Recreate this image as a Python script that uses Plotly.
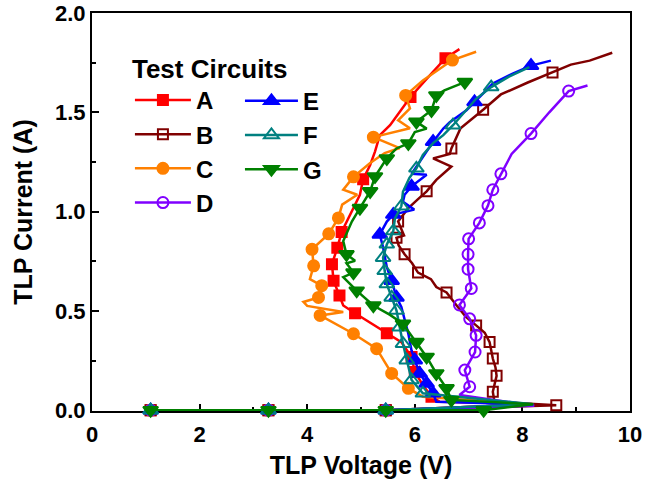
import plotly.graph_objects as go

# ---------------- data (TLP voltage V, TLP current A) ----------------
# zero-current low-voltage pulses shared by the curves
V0 = [1.09, 3.28, 5.46]
I0 = [0.0, 0.0, 0.0]

A_v = V0 + [8.20, 6.46, 6.31, 6.15, 6.00, 5.94, 5.75, 5.48, 5.23, 4.89, 4.67, 4.60, 4.49, 4.46, 4.56, 4.64, 4.83, 4.98, 5.04, 5.17, 5.26, 5.35, 5.54, 5.72, 5.92, 6.22, 6.57, 6.83]
A_i = I0 + [0.030, 0.043, 0.068, 0.127, 0.193, 0.268, 0.343, 0.388, 0.427, 0.488, 0.527, 0.577, 0.652, 0.735, 0.818, 0.897, 1.002, 1.085, 1.163, 1.235, 1.302, 1.385, 1.435, 1.502, 1.577, 1.668, 1.772, 1.818]
A_m = [1, 1, 1] + [0, 0, 1, 0, 1, 1, 0, 1, 0, 1, 0, 1, 1, 1, 1, 1, 0, 0, 1, 0, 0, 0, 0, 0, 1, 0, 1, 0]

B_v = V0 + [8.63, 7.48, 7.45, 7.52, 7.50, 7.45, 7.39, 7.30, 7.14, 6.95, 6.80, 6.59, 6.40, 6.30, 6.06, 5.95, 5.81, 5.70, 5.66, 5.80, 5.69, 5.78, 5.88, 6.05, 6.22, 6.40, 6.68, 6.34, 6.65, 6.68, 6.85, 7.27, 7.60, 8.10, 8.56, 8.90, 9.25, 9.67]
B_i = I0 + [0.025, 0.043, 0.093, 0.173, 0.215, 0.260, 0.343, 0.390, 0.427, 0.470, 0.520, 0.593, 0.620, 0.660, 0.693, 0.740, 0.785, 0.830, 0.868, 0.880, 0.950, 0.985, 1.018, 1.060, 1.102, 1.160, 1.227, 1.268, 1.290, 1.318, 1.420, 1.513, 1.590, 1.650, 1.700, 1.740, 1.760, 1.800]
B_m = [1, 1, 1] + [1, 0, 1, 1, 0, 1, 1, 0, 1, 0, 0, 1, 0, 0, 1, 0, 1, 0, 1, 0, 1, 0, 0, 0, 1, 0, 0, 0, 0, 1, 0, 1, 0, 0, 1, 0, 0, 0]

C_v = V0 + [8.20, 6.15, 5.88, 5.57, 5.29, 4.86, 4.24, 4.67, 4.00, 3.93, 4.21, 4.27, 4.05, 4.12, 4.09, 4.40, 4.58, 4.65, 4.93, 4.67, 4.86, 5.17, 5.44, 5.72, 5.23, 5.91, 5.69, 5.91, 5.83, 6.15, 6.70, 7.14]
C_i = I0 + [0.030, 0.068, 0.110, 0.185, 0.310, 0.385, 0.477, 0.495, 0.525, 0.545, 0.568, 0.627, 0.660, 0.727, 0.810, 0.888, 0.968, 1.035, 1.085, 1.110, 1.175, 1.245, 1.295, 1.320, 1.375, 1.420, 1.460, 1.520, 1.585, 1.660, 1.763, 1.805]
C_m = [1, 1, 1] + [0, 0, 1, 1, 1, 1, 1, 0, 0, 0, 1, 1, 0, 1, 1, 1, 1, 0, 0, 0, 1, 0, 0, 0, 1, 0, 0, 0, 1, 0, 1, 0]

D_v = V0 + [8.22, 6.83, 7.02, 6.93, 7.12, 7.14, 7.02, 6.83, 7.05, 6.99, 6.99, 7.00, 7.20, 7.36, 7.45, 7.60, 7.80, 8.16, 8.50, 8.86, 9.21]
D_i = I0 + [0.023, 0.077, 0.118, 0.202, 0.293, 0.377, 0.460, 0.530, 0.613, 0.710, 0.785, 0.863, 0.943, 1.030, 1.110, 1.190, 1.290, 1.393, 1.500, 1.607, 1.635]
D_m = [1, 1, 1] + [0, 0, 1, 1, 1, 1, 1, 1, 1, 1, 1, 1, 1, 1, 1, 1, 0, 1, 0, 1, 0]

E_v = V0 + [8.20, 6.40, 6.34, 6.22, 6.09, 6.00, 5.94, 5.88, 5.82, 5.75, 5.66, 5.57, 5.48, 5.41, 5.35, 5.48, 5.60, 5.99, 5.78, 5.81, 5.94, 6.22, 5.94, 6.09, 6.22, 6.34, 6.53, 6.65, 6.96, 7.11, 7.45, 7.82, 8.16, 8.53]
E_i = I0 + [0.030, 0.043, 0.085, 0.135, 0.185, 0.252, 0.300, 0.385, 0.450, 0.520, 0.568, 0.652, 0.720, 0.820, 0.885, 0.950, 0.985, 1.010, 1.050, 1.085, 1.127, 1.185, 1.190, 1.250, 1.300, 1.352, 1.418, 1.450, 1.510, 1.552, 1.645, 1.695, 1.735, 1.760]
E_m = [1, 1, 1] + [0, 0, 1, 1, 1, 1, 0, 0, 0, 0, 1, 1, 0, 0, 1, 0, 1, 0, 0, 0, 1, 0, 0, 0, 0, 1, 0, 0, 0, 1, 0, 0, 1, 0]

F_v = V0 + [8.20, 6.15, 5.94, 5.85, 5.78, 5.72, 5.66, 5.57, 5.48, 5.44, 5.41, 5.48, 5.60, 5.63, 5.75, 5.78, 5.90, 6.03, 6.15, 6.34, 6.53, 6.71, 7.14, 7.42, 7.75, 8.13]
F_i = I0 + [0.030, 0.085, 0.152, 0.252, 0.335, 0.418, 0.502, 0.568, 0.635, 0.702, 0.768, 0.835, 0.902, 0.965, 1.027, 1.100, 1.170, 1.218, 1.285, 1.345, 1.385, 1.435, 1.568, 1.627, 1.680, 1.727]
F_m = [1, 1, 1] + [0, 1, 1, 1, 1, 1, 1, 1, 1, 1, 1, 1, 1, 0, 1, 0, 0, 1, 0, 0, 0, 1, 0, 1, 0, 0]

G_v = V0 + [7.28, 8.20, 6.68, 6.59, 6.40, 6.22, 6.03, 5.78, 5.54, 5.23, 4.92, 4.67, 4.86, 4.73, 4.89, 4.73, 4.67, 4.83, 4.98, 5.17, 5.26, 5.48, 5.66, 5.88, 6.00, 6.22, 6.03, 6.31, 6.40, 6.55, 6.93]
G_i = I0 + [0.000, 0.030, 0.052, 0.110, 0.185, 0.268, 0.343, 0.435, 0.480, 0.527, 0.602, 0.670, 0.693, 0.740, 0.752, 0.785, 0.852, 0.950, 1.018, 1.102, 1.177, 1.268, 1.318, 1.343, 1.400, 1.418, 1.452, 1.510, 1.585, 1.610, 1.652]
G_m = [1, 1, 1] + [1, 0, 1, 1, 1, 1, 1, 1, 0, 1, 1, 0, 1, 0, 0, 1, 0, 0, 1, 1, 1, 1, 0, 1, 0, 0, 1, 1, 1, 0, 1]

names = ["A", "B", "C", "D", "E", "F", "G"]
xs = [A_v, B_v, C_v, D_v, E_v, F_v, G_v]
ys = [A_i, B_i, C_i, D_i, E_i, F_i, G_i]
ms = [A_m, B_m, C_m, D_m, E_m, F_m, G_m]

# ---------------- styles ----------------
colors = ["#FF0000", "#800000", "#FF8000", "#8000FF", "#0000FF", "#008080", "#008000"]
symbols = ["square", "square-open", "circle", "circle-open", "triangle-up", "triangle-up-open", "triangle-down"]
msizes = [10, 10, 11, 11, 13, 13, 13]
legend_of = ["legend", "legend", "legend", "legend", "legend2", "legend2", "legend2"]

FONT = "Liberation Sans, Arial, sans-serif"

fig = go.Figure()
for k, nm in enumerate(names):
    assert len(xs[k]) == len(ys[k]) == len(ms[k]), nm
    col = colors[k]
    # measured curve
    fig.add_trace(go.Scatter(x=xs[k], y=ys[k], mode="lines", line=dict(color=col, width=2.5),
                             showlegend=False, hoverinfo="skip"))
    # marked points
    mx = [v for v, f in zip(xs[k], ms[k]) if f]
    my = [c for c, f in zip(ys[k], ms[k]) if f]
    fig.add_trace(go.Scatter(x=mx, y=my, mode="markers", cliponaxis=False,
                             marker=dict(symbol=symbols[k], size=msizes[k], color=col,
                                         line=dict(color=col, width=2)),
                             showlegend=False, name=nm))
    # legend entry
    fig.add_trace(go.Scatter(x=[None], y=[None], mode="lines+markers", name=nm,
                             line=dict(color=col, width=2.5),
                             marker=dict(symbol=symbols[k], size=msizes[k], color=col,
                                         line=dict(color=col, width=2)),
                             legend=legend_of[k], showlegend=True))

axis_common = dict(
    showline=True, linecolor="black", linewidth=2, mirror=True,
    ticks="inside", ticklen=7, tickwidth=1.5, tickcolor="black",
    showgrid=False, zeroline=False, automargin=False,
    tickfont=dict(family=FONT, size=22, color="black", weight="bold"),
    layer="below traces",
)

fig.update_layout(
    width=646, height=483,
    margin=dict(l=92, r=16, t=13, b=72, autoexpand=False),
    paper_bgcolor="white", plot_bgcolor="white",
    xaxis=dict(range=[0, 10], dtick=2, tick0=0, ticklabelstandoff=3,
               minor=dict(ticks="inside", ticklen=4, tickwidth=1.5, tickcolor="black", dtick=1),
               title=dict(text="TLP Voltage (V)", standoff=10,
                          font=dict(family=FONT, size=25, color="black", weight="bold")),
               **axis_common),
    yaxis=dict(range=[-0.004, 2.0], dtick=0.5, tick0=0, tickformat=".1f",
               minor=dict(ticks="inside", ticklen=4, tickwidth=1.5, tickcolor="black", dtick=0.25),
               title=dict(text="TLP Current (A)", standoff=15,
                          font=dict(family=FONT, size=25, color="black", weight="bold")),
               **axis_common),
    legend=dict(x=0.0705, y=0.922, xanchor="left", yanchor="top",
                bgcolor="rgba(0,0,0,0)", borderwidth=0, tracegroupgap=0,
                itemwidth=56,
                title=dict(text="Test Circuits", font=dict(family=FONT, size=26, color="black", weight="bold")),
                font=dict(family=FONT, size=24, color="black", weight="bold")),
    legend2=dict(x=0.275, y=0.835, xanchor="left", yanchor="top",
                 bgcolor="rgba(0,0,0,0)", borderwidth=0, tracegroupgap=0,
                 itemwidth=53,
                 font=dict(family=FONT, size=24, color="black", weight="bold")),
)

fig.write_html("out.html")
